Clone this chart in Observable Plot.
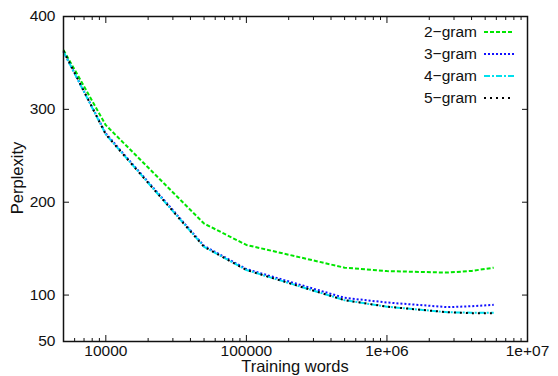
<!DOCTYPE html>
<html>
<head>
<meta charset="utf-8">
<script src="https://cdn.jsdelivr.net/npm/d3@7"></script>
<script src="https://cdn.jsdelivr.net/npm/@observablehq/plot@0.6"></script>
<style>
  html, body { margin: 0; padding: 0; background: #fff; }
  svg { display: block; }
</style>
</head>
<body>
<div id="chart"></div>
<script>
// Training words (x), log scale
const words    = [5000, 10000, 50000, 100000, 500000, 1000000, 2700000, 4000000, 5750000];
// Perplexity per n-gram order
const bigram   = [364, 283, 177, 154, 129.5, 125.8, 124.2, 126, 129.5];
const trigram  = [362, 274, 153, 128, 97, 92, 87, 88, 89.5];
const fourgram = [362, 273, 152, 127, 94.5, 87.5, 81.5, 81, 81];
const fivegram = [363, 273, 152, 127, 94.5, 87.5, 81.5, 80.5, 80.5];

const seriesNames = ["2\u2212gram", "3\u2212gram", "4\u2212gram", "5\u2212gram"];
const seriesColors = ["#00e600", "#1010ff", "#00e0ee", "#000000"];
const seriesDash = ["4,2", "2,2", "6,2,2,2", "2,4"];

const xMajor = [10000, 100000, 1000000, 10000000];
const xMajorLabels = ["10000", "100000", "1e+06", "1e+07"];
const yTicks = [50, 100, 200, 300, 400];

const xMinor = [];
for (const p of [1000, 10000, 100000, 1000000]) {
  for (let m = 2; m <= 9; m++) {
    const v = m * p;
    if (v > 5000 && v < 10000000) xMinor.push(v);
  }
}

const allSeries = [bigram, trigram, fourgram, fivegram];
const table = [];
allSeries.forEach((vals, i) => {
  vals.forEach((v, j) => table.push({series: seriesNames[i], words: words[j], ppl: v}));
});

const fmt = d => xMajorLabels[xMajor.indexOf(d)];
const empty = () => "";

const lines = seriesNames.map((name, i) =>
  Plot.line(table.filter(d => d.series === name), {
    x: "words", y: "ppl",
    stroke: seriesColors[i], strokeWidth: 2,
    strokeDasharray: seriesDash[i], strokeLinecap: "butt"
  })
);

const chart = Plot.plot({
  width: 558,
  height: 376,
  marginLeft: 63,
  marginRight: 31,
  marginTop: 16,
  marginBottom: 35,
  style: {fontFamily: "'Liberation Sans', Arial, sans-serif", fontSize: "15.5px", background: "#fff", color: "#111"},
  x: {type: "log", domain: [5000, 10000000]},
  y: {type: "linear", domain: [50, 400]},
  marks: [
    ...lines,
    Plot.frame({stroke: "#111", strokeWidth: 1.5}),
    Plot.axisX(xMajor, {anchor: "bottom", tickSize: -6, tickPadding: 9, tickFormat: fmt, label: null, strokeWidth: 1}),
    Plot.axisX(xMinor, {anchor: "bottom", tickSize: -3, tickFormat: empty, label: null, strokeWidth: 1}),
    Plot.axisX(xMajor, {anchor: "top", tickSize: -6, tickFormat: empty, label: null, strokeWidth: 1}),
    Plot.axisX(xMinor, {anchor: "top", tickSize: -3, tickFormat: empty, label: null, strokeWidth: 1}),
    Plot.axisY(yTicks, {anchor: "left", tickSize: -6, tickPadding: 14, tickFormat: d => String(d), label: null, strokeWidth: 1}),
    Plot.axisY(yTicks, {anchor: "right", tickSize: -6, tickFormat: empty, label: null, strokeWidth: 1})
  ]
});

const svg = d3.select(chart);
// Axis titles
svg.append("text")
  .attr("x", 295).attr("y", 372)
  .attr("text-anchor", "middle")
  .attr("font-size", "16.5px").attr("fill", "#111")
  .text("Training words");
svg.append("text")
  .attr("transform", "translate(23,178) rotate(-90)")
  .attr("text-anchor", "middle")
  .attr("font-size", "16.5px").attr("fill", "#111")
  .text("Perplexity");

// Legend
const leg = svg.append("g");
seriesNames.forEach((name, i) => {
  const cy = 32 + i * 22;
  leg.append("text")
    .attr("x", 477).attr("y", cy)
    .attr("dy", "0.35em")
    .attr("text-anchor", "end")
    .attr("font-size", "15.5px").attr("fill", "#111")
    .text(name);
  leg.append("line")
    .attr("x1", 484).attr("x2", 514)
    .attr("y1", cy).attr("y2", cy)
    .attr("stroke", seriesColors[i]).attr("stroke-width", 2)
    .attr("stroke-dasharray", seriesDash[i]);
});

document.getElementById("chart").appendChild(chart);
</script>
</body>
</html>
